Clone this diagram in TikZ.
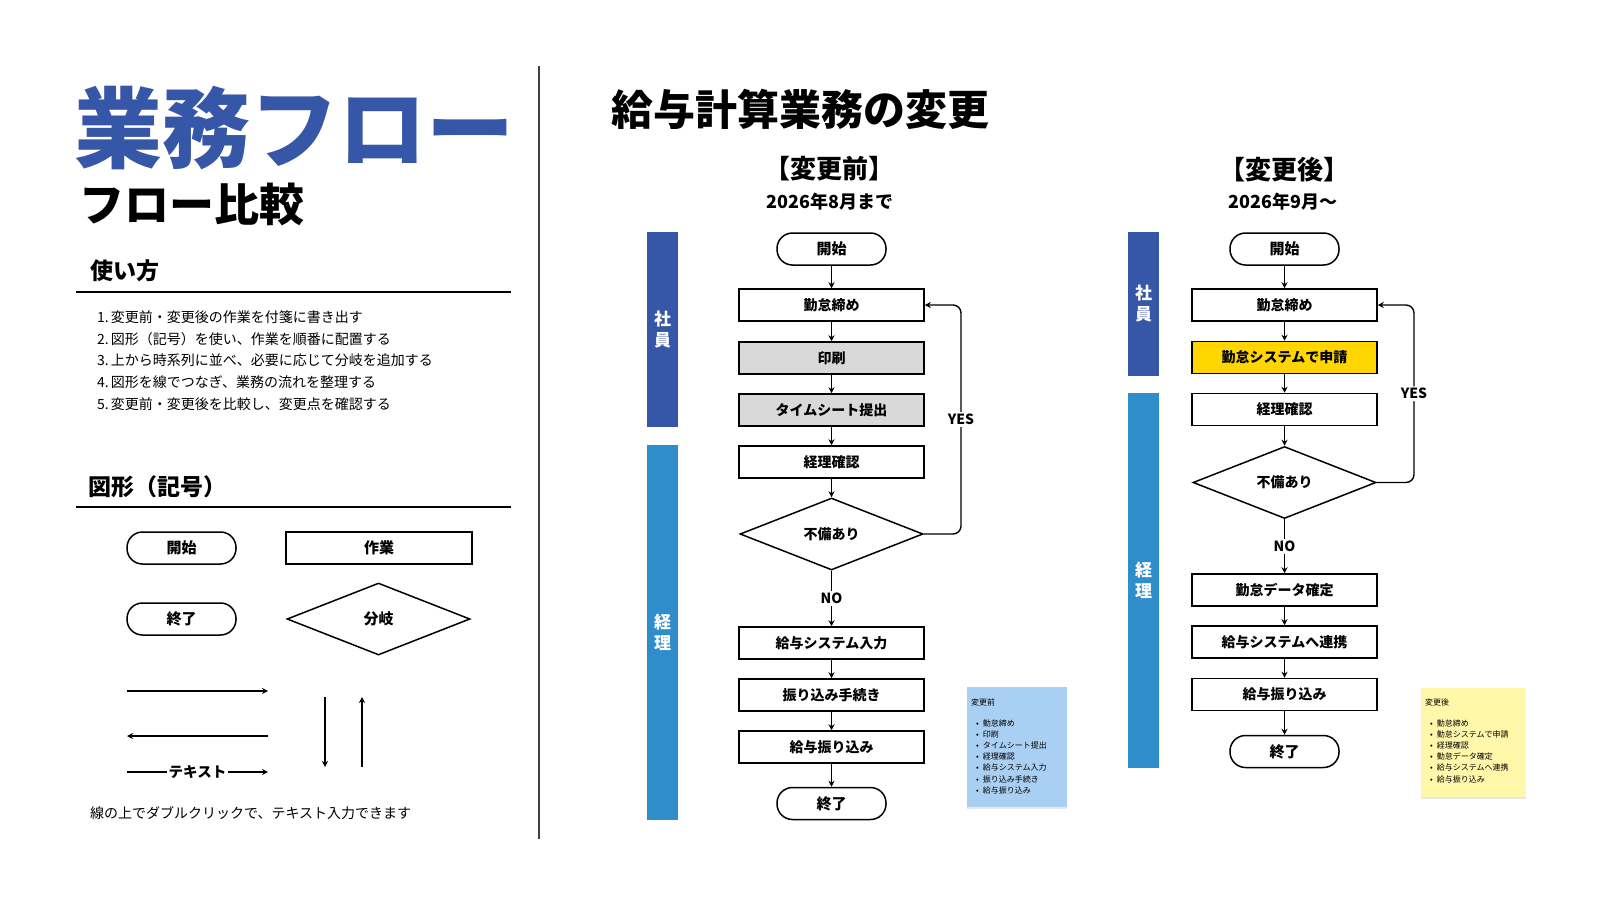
\documentclass[tikz,border=0pt]{standalone}
\usepackage{fontspec}
\setmainfont{Noto Sans CJK JP}
\usepackage{xcolor}
\usetikzlibrary{shapes.geometric,arrows.meta,shadows}
\definecolor{mnavy}{RGB}{54,87,167}
\definecolor{msky}{RGB}{47,141,204}
\definecolor{mgray}{RGB}{217,217,217}
\definecolor{myellow}{RGB}{255,214,0}
\definecolor{mnoteblue}{RGB}{169,207,242}
\definecolor{mnoteyellow}{RGB}{255,247,170}
\newcommand{\noteitem}[1]{\hspace*{5pt}•\hspace{4pt}#1}

\begin{document}
\begin{tikzpicture}[x=1pt, y=-1pt, inner sep=0pt]
  \tikzset{work box/.style={draw,line width=1.5pt,fill=#1,minimum width=185pt,minimum height=32pt,font=\fontsize{14}{14}\selectfont\bfseries},
    work box/.default=white,
    term box/.style={draw,line width=1.5pt,fill=white,rounded corners=15.5pt,minimum width=109pt,minimum height=32pt,font=\fontsize{15}{15}\selectfont\bfseries},
    branch box/.style={diamond,draw,line width=1.5pt,fill=white,aspect=2.5,minimum width=183pt,minimum height=72pt,font=\fontsize{14}{14}\selectfont\bfseries},
    lane bar/.style={fill=#1,minimum width=31pt,text=white,align=center,font=\fontsize{17}{21}\selectfont\bfseries},
    flow arrow/.style={-{Stealth[length=6pt,width=6pt]},line width=1.4pt},
    branch label/.style={fill=white,inner sep=2pt,font=\fontsize{14}{14}\selectfont\bfseries},
    note text/.style={align=left,font=\fontsize{8}{11.2}\selectfont}}

  \useasboundingbox (0,0) rectangle (1600,900);

  % left panel
  \node[anchor=west, text=mnavy, font=\fontsize{88}{88}\selectfont\bfseries] (bigtitle) at (74,128) {業務フロー};
  \node[anchor=west, font=\fontsize{45}{45}\selectfont\bfseries] (subtitle) at (79,204) {フロー比較};
  \node[anchor=west, font=\fontsize{23}{23}\selectfont\bfseries] (howhead) at (90,271) {使い方};
  \draw[line width=1.5pt] (76,292) -- (511,292);
  \node[anchor=west, align=left, font=\fontsize{14}{21.75}\selectfont] (howlist) at (97,360.5) {1.\hspace{2pt}変更前・変更後の作業を付箋に書き出す\\2.\hspace{2pt}図形（記号）を使い、作業を順番に配置する\\3.\hspace{2pt}上から時系列に並べ、必要に応じて分岐を追加する\\4.\hspace{2pt}図形を線でつなぎ、業務の流れを整理する\\5.\hspace{2pt}変更前・変更後を比較し、変更点を確認する};
  \node[anchor=west, font=\fontsize{23}{23}\selectfont\bfseries] (shapehead) at (88,487) {図形（記号）};
  \draw[line width=1.5pt] (76,507) -- (511,507);

  \node[term box] (lstart) at (181.5,548) {開始};
  \node[work box, minimum width=186pt, font=\fontsize{15}{15}\selectfont\bfseries] (lwork) at (379,548) {作業};
  \node[term box] (lend) at (181.5,619) {終了};
  \node[branch box, font=\fontsize{15}{15}\selectfont\bfseries] (lbranch) at (378.5,619) {分岐};
  \coordinate (ra) at (127,691); \coordinate (rb) at (268,691);
  \coordinate (la) at (268,736); \coordinate (lb) at (127,736);
  \coordinate (ta) at (127,772); \coordinate (tb) at (268,772);
  \coordinate (da) at (325,697); \coordinate (db) at (325,767);
  \coordinate (ua) at (362,767); \coordinate (ub) at (362,697);
  \draw[flow arrow] (ra) -- (rb);
  \draw[flow arrow] (la) -- (lb);
  \draw[flow arrow] (ta) -- node[fill=white, inner sep=2pt, font=\fontsize{14.5}{14.5}\selectfont\bfseries] (tlabel) {テキスト} (tb);
  \draw[flow arrow] (da) -- (db);
  \draw[flow arrow] (ua) -- (ub);
  \node[anchor=west, font=\fontsize{14}{14}\selectfont] (hint) at (90,813) {線の上でダブルクリックで、テキスト入力できます};

  \draw[line width=1.2pt, black!75] (539,66) -- (539,839);

  % right panel
  \node[anchor=west, font=\fontsize{42}{42}\selectfont\bfseries] (mainhead) at (611,109) {給与計算業務の変更};
  \node[font=\fontsize{26}{26}\selectfont\bfseries] (beforehead) at (829,169) {【変更前】};
  \node[font=\fontsize{18}{18}\selectfont\bfseries] (beforedate) at (830,202) {2026年8月まで};
  \node[font=\fontsize{26}{26}\selectfont\bfseries] (afterhead) at (1284,170) {【変更後】};
  \node[font=\fontsize{18}{18}\selectfont\bfseries] (afterdate) at (1283,202) {2026年9月〜};

  % before
  \node[lane bar=mnavy, minimum height=195pt] (staffA) at (662.5,329.5) {社\\員};
  \node[lane bar=msky, minimum height=375pt] (acctA) at (662.5,632.5) {経\\理};
  \node[term box] (startA) at (831.5,249) {開始};
  \node[work box] (closeA) at (831.5,305) {勤怠締め};
  \node[work box=mgray] (printA) at (831.5,358) {印刷};
  \node[work box=mgray] (sheetA) at (831.5,410) {タイムシート提出};
  \node[work box] (checkA) at (831.5,462) {経理確認};
  \node[branch box] (defectA) at (831.5,534) {不備あり};
  \node[work box] (inputA) at (831.5,643) {給与システム入力};
  \node[work box] (transA) at (831.5,695) {振り込み手続き};
  \node[work box] (payA) at (831.5,747) {給与振り込み};
  \node[term box] (endA) at (831.5,803.5) {終了};
  \coordinate (loopA) at (961,305);
  \draw[flow arrow] (startA) -- (closeA);
  \draw[flow arrow] (closeA) -- (printA);
  \draw[flow arrow] (printA) -- (sheetA);
  \draw[flow arrow] (sheetA) -- (checkA);
  \draw[flow arrow] (checkA) -- (defectA);
  \draw[flow arrow] (defectA) -- node[branch label] {NO} (inputA);
  \draw[flow arrow, rounded corners=8pt] (defectA.east) -| node[branch label, pos=0.75] {YES} (loopA) -- (closeA.east);
  \draw[flow arrow] (inputA) -- (transA);
  \draw[flow arrow] (transA) -- (payA);
  \draw[flow arrow] (payA) -- (endA);

  % after
  \node[lane bar=mnavy, minimum height=144pt] (staffB) at (1143.5,304) {社\\員};
  \node[lane bar=msky, minimum height=375pt] (acctB) at (1143.5,580.5) {経\\理};
  \node[term box] (startB) at (1284.5,249) {開始};
  \node[work box] (closeB) at (1284.5,305) {勤怠締め};
  \node[work box=myellow] (applyB) at (1284.5,357.5) {勤怠システムで申請};
  \node[work box] (checkB) at (1284.5,409.5) {経理確認};
  \node[branch box] (defectB) at (1284.5,482.5) {不備あり};
  \node[work box] (fixB) at (1284.5,590) {勤怠データ確定};
  \node[work box] (linkB) at (1284.5,642) {給与システムへ連携};
  \node[work box] (payB) at (1284.5,694.5) {給与振り込み};
  \node[term box] (endB) at (1284.5,751.5) {終了};
  \coordinate (loopB) at (1414,305);
  \draw[flow arrow] (startB) -- (closeB);
  \draw[flow arrow] (closeB) -- (applyB);
  \draw[flow arrow] (applyB) -- (checkB);
  \draw[flow arrow] (checkB) -- (defectB);
  \draw[flow arrow] (defectB) -- node[branch label] {NO} (fixB);
  \draw[flow arrow, rounded corners=8pt] (defectB.east) -| node[branch label, pos=0.75] {YES} (loopB) -- (closeB.east);
  \draw[flow arrow] (fixB) -- (linkB);
  \draw[flow arrow] (linkB) -- (payB);
  \draw[flow arrow] (payB) -- (endB);

  % sticky notes
  \fill[mnoteblue, drop shadow={shadow xshift=0pt, shadow yshift=-2pt, opacity=0.2}] (967,687) rectangle (1067,807);
  \node[note text, anchor=north west] (noteA) at (971,699) {変更前\\[9pt]\noteitem{勤怠締め}\\\noteitem{印刷}\\\noteitem{タイムシート提出}\\\noteitem{経理確認}\\\noteitem{給与システム入力}\\\noteitem{振り込み手続き}\\\noteitem{給与振り込み}};
  \fill[mnoteyellow, drop shadow={shadow xshift=0pt, shadow yshift=-2pt, opacity=0.2}] (1421,688) rectangle (1526,797);
  \node[note text, anchor=north west] (noteB) at (1425,699) {変更後\\[9pt]\noteitem{勤怠締め}\\\noteitem{勤怠システムで申請}\\\noteitem{経理確認}\\\noteitem{勤怠データ確定}\\\noteitem{給与システムへ連携}\\\noteitem{給与振り込み}};
\end{tikzpicture}
\end{document}
